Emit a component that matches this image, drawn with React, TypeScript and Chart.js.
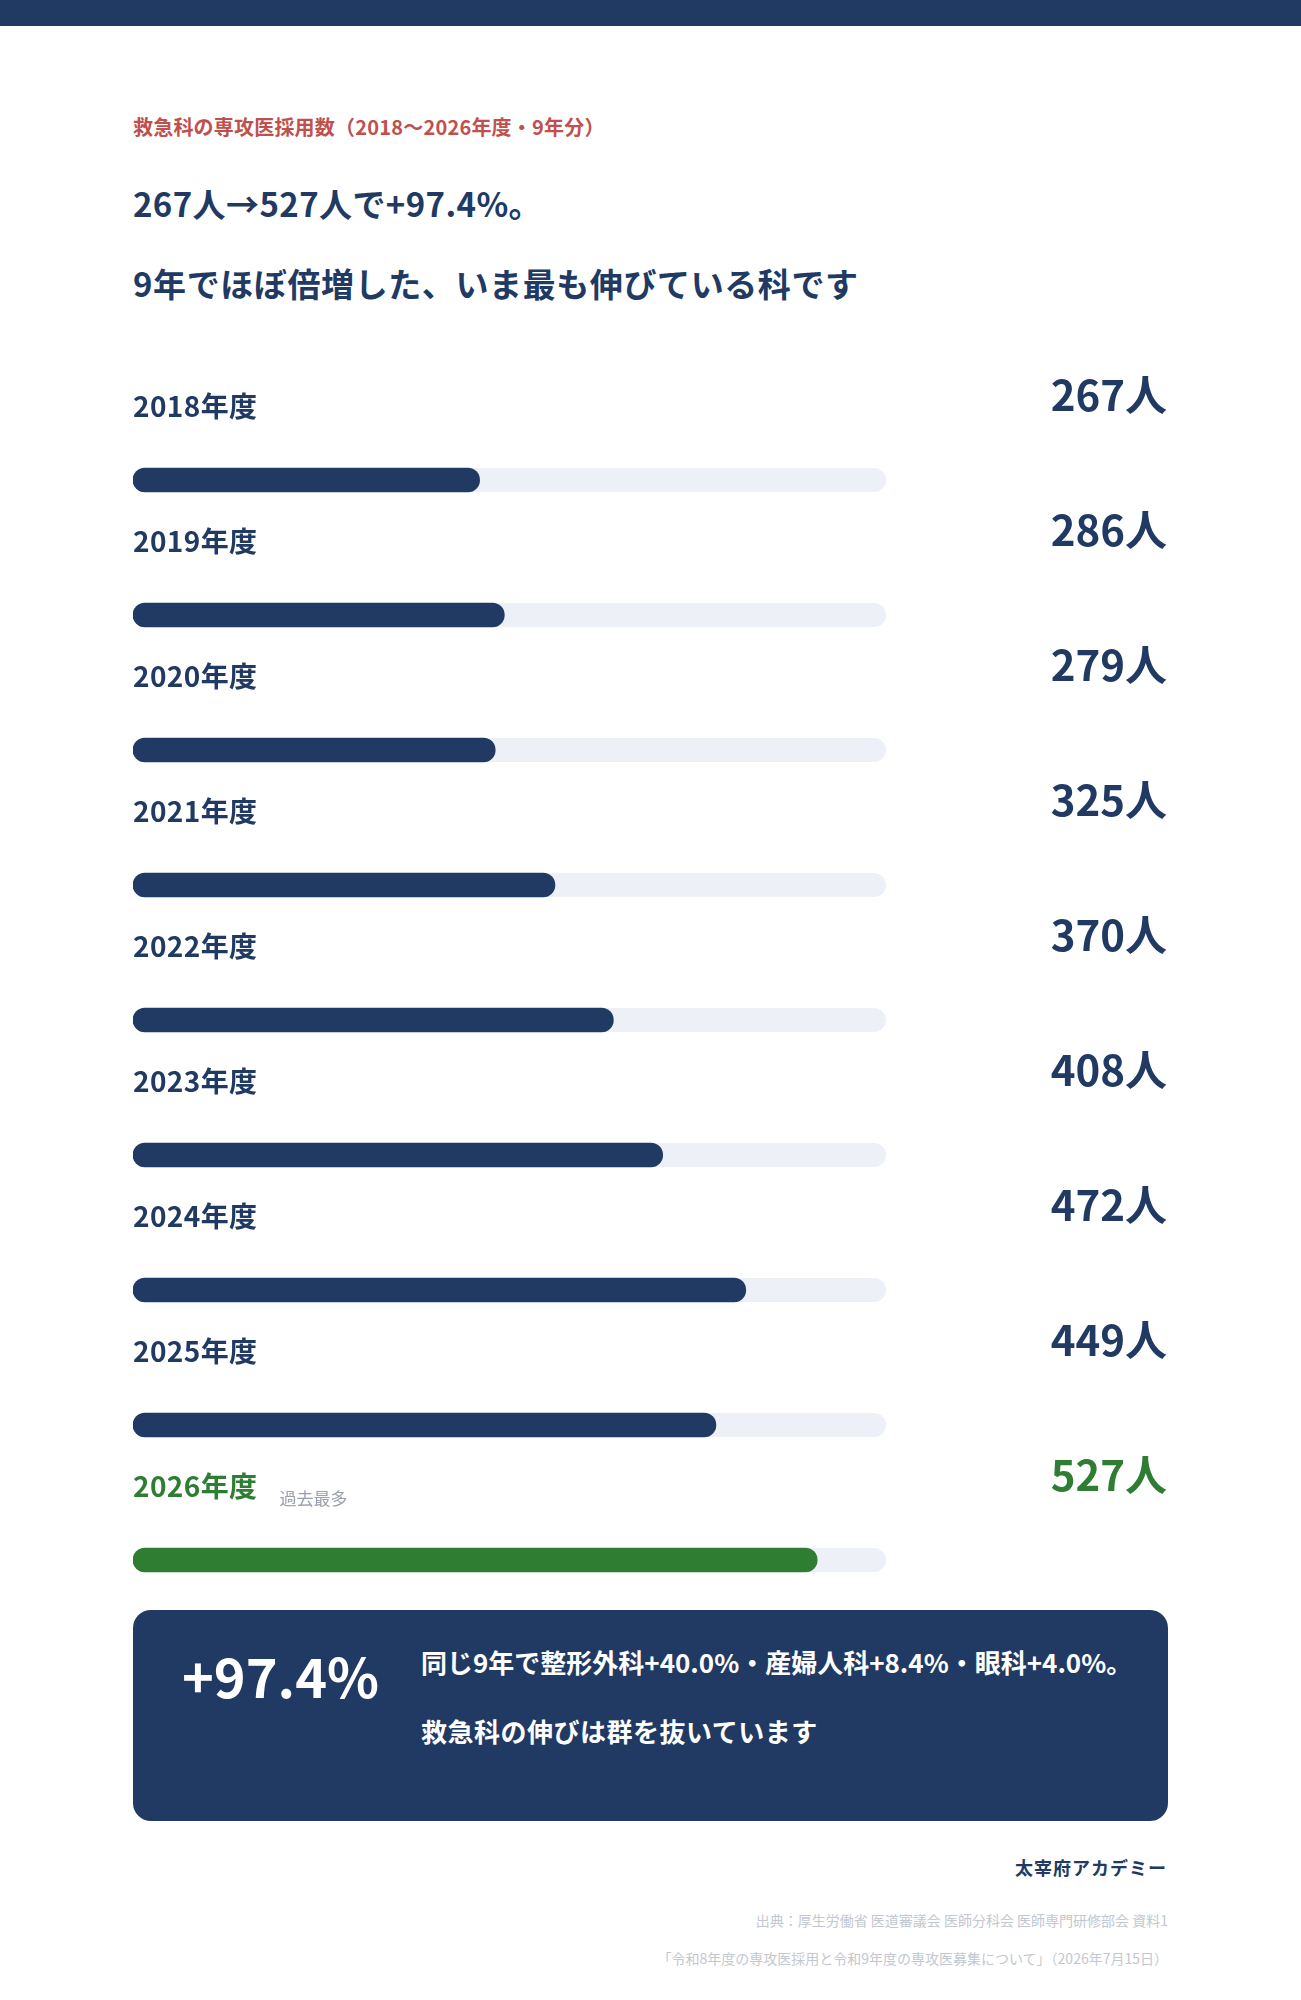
import React, { useEffect, useRef } from "react";
import { Chart, registerables } from "chart.js";

Chart.register(...registerables);

// ---- data ----
const YEARS = ["2018年度", "2019年度", "2020年度", "2021年度", "2022年度", "2023年度", "2024年度", "2025年度", "2026年度"];
const COUNTS = [267, 286, 279, 325, 370, 408, 472, 449, 527];
const NOTES = ["", "", "", "", "", "", "", "", "過去最多"];
const UNIT = "人";
const X_MIN = 0;
const X_MAX = 580;

const SUBTITLE = "救急科の専攻医採用数（2018～2026年度・9年分）";
const HEAD_1 = "267人→527人で+97.4%。";
const HEAD_2 = "9年でほぼ倍増した、いま最も伸びている科です";
const BOX_BIG = "+97.4%";
const BOX_LINE_1 = "同じ9年で整形外科+40.0%・産婦人科+8.4%・眼科+4.0%。";
const BOX_LINE_2 = "救急科の伸びは群を抜いています";
const BRAND = "太宰府アカデミー";
const SOURCE_1 = "出典：厚生労働省 医道審議会 医師分科会 医師専門研修部会 資料1";
const SOURCE_2 = "「令和8年度の専攻医採用と令和9年度の専攻医募集について」（2026年7月15日）";

// ---- style ----
const FONT = '"Noto Sans CJK JP", "Noto Sans", sans-serif';
const NAVY = "#213a63";
const GREEN = "#2e7d32";
const TRACK = "#edf0f7";
const RED = "#c0504d";
const GRAY_NOTE = "#9aa0ab";
const GRAY_SRC = "#c3c7cf";

const CANVAS_TOP = 300;
const CANVAS_W = 1301;
const CANVAS_H = 1340;

export default function App() {
  const ref = useRef<HTMLCanvasElement | null>(null);

  useEffect(() => {
    if (!ref.current) return;
    const maxIdx = COUNTS.indexOf(Math.max(...COUNTS));
    const colors = COUNTS.map((_, i) => (i === maxIdx ? GREEN : NAVY));

    const trackPlugin = {
      id: "tracks",
      beforeDatasetsDraw(chart: any) {
        const ctx = chart.ctx;
        const xs = chart.scales.x;
        const meta = chart.getDatasetMeta(0);
        ctx.save();
        ctx.fillStyle = TRACK;
        meta.data.forEach((bar: any) => {
          const h = bar.height;
          const x0 = xs.getPixelForValue(X_MIN);
          const x1 = xs.getPixelForValue(X_MAX);
          ctx.beginPath();
          ctx.roundRect(x0, bar.y - h / 2, x1 - x0, h, h / 2);
          ctx.fill();
        });
        ctx.restore();
      },
    };

    const labelPlugin = {
      id: "rowLabels",
      afterDatasetsDraw(chart: any) {
        const ctx = chart.ctx;
        const xs = chart.scales.x;
        const meta = chart.getDatasetMeta(0);
        ctx.save();
        meta.data.forEach((bar: any, i: number) => {
          const col = colors[i];
          ctx.fillStyle = col;
          ctx.textBaseline = "middle";
          ctx.textAlign = "left";
          ctx.font = `700 28px ${FONT}`;
          (ctx as any).letterSpacing = "0.4px";
          const ly = bar.y - 74;
          ctx.fillText(YEARS[i], xs.left, ly);
          const lw = ctx.measureText(YEARS[i]).width;
          if (NOTES[i]) {
            ctx.font = `400 17px ${FONT}`;
            (ctx as any).letterSpacing = "0px";
            ctx.fillStyle = GRAY_NOTE;
            ctx.fillText(NOTES[i], xs.left + lw + 22, ly + 13);
          }
          ctx.fillStyle = col;
          ctx.textAlign = "right";
          ctx.font = `700 42px ${FONT}`;
          (ctx as any).letterSpacing = "0px";
          ctx.fillText(`${COUNTS[i]}${UNIT}`, chart.width - 134, bar.y - 85);
        });
        ctx.restore();
      },
    };

    const chart = new Chart(ref.current, {
      type: "bar",
      data: {
        labels: YEARS,
        datasets: [
          {
            label: "採用数",
            data: COUNTS,
            backgroundColor: colors,
            borderRadius: 12,
            borderSkipped: false,
            barThickness: 24,
          },
        ],
      },
      options: {
        indexAxis: "y",
        animation: false,
        responsive: false,
        devicePixelRatio: 1,
        layout: { padding: { left: 133, right: 415, top: 112.5, bottom: 12.5 } },
        scales: {
          x: { display: false, min: X_MIN, max: X_MAX },
          y: { display: false, offset: true },
        },
        plugins: { legend: { display: false }, tooltip: { enabled: false } },
      },
      plugins: [trackPlugin, labelPlugin],
    });
    return () => chart.destroy();
  }, []);

  const abs = (o: React.CSSProperties): React.CSSProperties => ({ position: "absolute", margin: 0, whiteSpace: "nowrap", ...o });

  return (
    <div style={{ position: "absolute", left: 0, top: 0, width: 1301, height: 2000, background: "#fff", fontFamily: FONT, overflow: "hidden" }}>
      <div style={abs({ left: 0, top: 0, width: 1301, height: 26, background: NAVY })} />
      <div style={abs({ left: 133, top: 127 - 10, fontSize: 20, lineHeight: "20px", fontWeight: 700, color: RED, letterSpacing: 0.2 })}>{SUBTITLE}</div>
      <div style={abs({ left: 133, top: 203 - 16.5, fontSize: 33, lineHeight: "33px", fontWeight: 700, color: NAVY, letterSpacing: 0.4 })}>{HEAD_1}</div>
      <div style={abs({ left: 133, top: 283 - 16.5, fontSize: 33, lineHeight: "33px", fontWeight: 700, color: NAVY, letterSpacing: 0.6 })}>{HEAD_2}</div>

      <canvas ref={ref} width={CANVAS_W} height={CANVAS_H} style={{ position: "absolute", left: 0, top: CANVAS_TOP, width: CANVAS_W, height: CANVAS_H }} />

      <div style={abs({ left: 133, top: 1610, width: 1035, height: 211, background: NAVY, borderRadius: 18, color: "#fff" })}>
        <div style={abs({ left: 49, top: 65 - 27, fontSize: 54, lineHeight: "54px", fontWeight: 700 })}>{BOX_BIG}</div>
        <div style={abs({ left: 288, top: 52 - 13, fontSize: 26, lineHeight: "26px", fontWeight: 700 })}>{BOX_LINE_1}</div>
        <div style={abs({ left: 288, top: 121 - 13, fontSize: 26, lineHeight: "26px", fontWeight: 700, letterSpacing: 0.5 })}>{BOX_LINE_2}</div>
      </div>

      <div style={abs({ right: 134, top: 1867 - 9, fontSize: 18, lineHeight: "18px", fontWeight: 700, color: NAVY, letterSpacing: 1 })}>{BRAND}</div>
      <div style={abs({ right: 133, top: 1920 - 7, fontSize: 14, lineHeight: "14px", color: GRAY_SRC })}>{SOURCE_1}</div>
      <div style={abs({ right: 133, top: 1958 - 7, fontSize: 14, lineHeight: "14px", color: GRAY_SRC })}>{SOURCE_2}</div>
    </div>
  );
}
